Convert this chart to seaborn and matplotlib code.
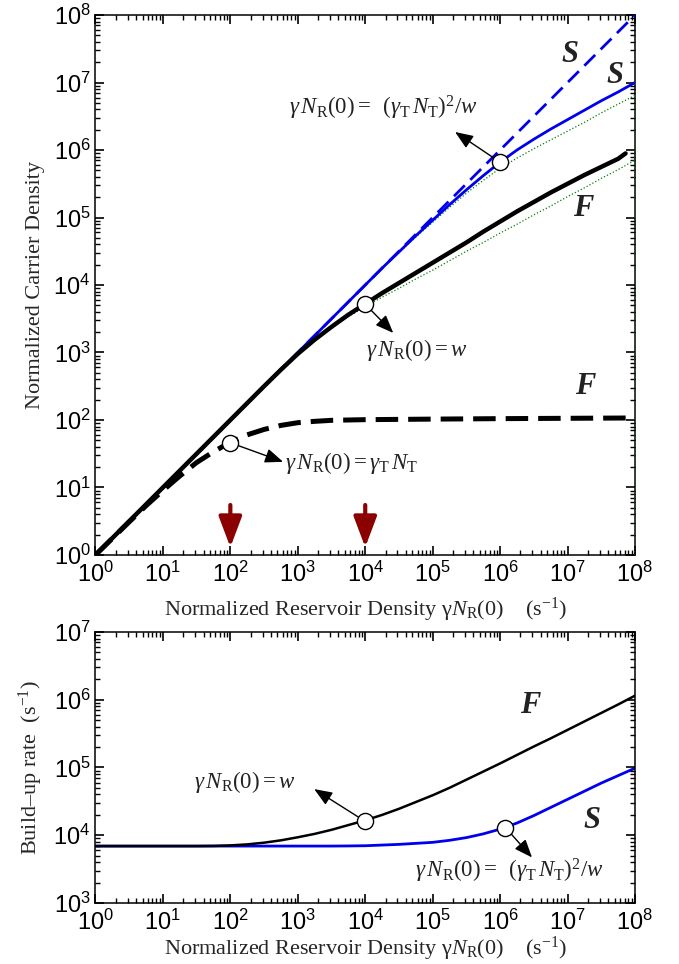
import numpy as np
import pandas as pd
import matplotlib
matplotlib.use("Agg")
import matplotlib.pyplot as plt
from matplotlib.ticker import LogLocator, FuncFormatter, NullFormatter
import seaborn as sns

# ---------------- data (as log10 exponents) ----------------
# top panel: normalized carrier density
blue_dashed_xe = [0, 8]
blue_dashed_ye = [0, 8]

blue_solid_xe = [0, 4, 4.25, 4.5, 4.75, 5, 5.25, 5.5, 5.75, 6, 6.25, 6.5, 6.75,
                 7, 7.25, 7.5, 7.75, 8]
blue_solid_ye = [0, 4.0, 4.25, 4.49, 4.73, 4.96, 5.19, 5.41, 5.62, 5.82, 6.0,
                 6.16, 6.31, 6.45, 6.59, 6.73, 6.86, 7.0]

green_up_xe = [0, 4.25, 4.5, 4.75, 5, 5.25, 5.5, 5.75, 6, 6.25, 6.5, 6.75, 7,
               7.25, 7.5, 7.75, 8, 8]
green_up_ye = [0, 4.25, 4.48, 4.71, 4.93, 5.15, 5.36, 5.55, 5.73, 5.88, 6.02,
               6.15, 6.28, 6.41, 6.55, 6.68, 6.81, 0]

black_xe = [0, 2.5, 2.75, 3, 3.25, 3.5, 3.75, 4, 4.25, 4.5, 4.75, 5, 5.25, 5.5,
            5.75, 6, 6.25, 6.5, 6.75, 7, 7.25, 7.5, 7.75, 7.86]
black_ye = [0, 2.5, 2.745, 2.98, 3.19, 3.38, 3.56, 3.72, 3.88, 4.03, 4.18, 4.33,
            4.48, 4.63, 4.79, 4.94, 5.09, 5.23, 5.37, 5.50, 5.63, 5.75, 5.87, 5.95]

green_lo_xe = [0, 2.75, 3, 3.25, 3.5, 3.75, 4, 4.25, 4.5, 4.75, 5, 5.25, 5.5,
               5.75, 6, 6.25, 6.5, 6.75, 7, 7.25, 7.5, 7.75, 8]
green_lo_ye = [0, 2.74, 2.97, 3.17, 3.36, 3.53, 3.68, 3.82, 3.95, 4.09, 4.22,
               4.36, 4.5, 4.63, 4.77, 4.9, 5.04, 5.17, 5.31, 5.44, 5.58, 5.71, 5.85]

dashed_xe = [0, 0.25, 0.5, 0.75, 1, 1.25, 1.5, 1.75, 2, 2.25, 2.5, 2.75, 3,
             3.25, 3.5, 3.75, 4, 5, 6, 7, 8]
dashed_ye = [0, 0.245, 0.49, 0.73, 0.955, 1.17, 1.37, 1.53, 1.67, 1.78, 1.86,
             1.92, 1.96, 1.98, 1.995, 2.0, 2.005, 2.013, 2.02, 2.025, 2.03]

# bottom panel: build-up rate
rate_F_xe = [0, 1, 1.5, 1.75, 2, 2.25, 2.5, 2.75, 3, 3.25, 3.5, 3.75, 4, 4.25,
             4.5, 4.75, 5, 5.25, 5.5, 5.75, 6, 6.25, 6.5, 6.75, 7, 7.25, 7.5,
             7.75, 8]
rate_F_ye = [3.84, 3.84, 3.84, 3.842, 3.85, 3.865, 3.89, 3.925, 3.97, 4.02,
             4.08, 4.15, 4.22, 4.30, 4.39, 4.49, 4.59, 4.70, 4.82, 4.94, 5.06,
             5.185, 5.31, 5.43, 5.555, 5.68, 5.805, 5.93, 6.06]
rate_S_xe = [0, 3.5, 3.75, 4, 4.25, 4.5, 4.75, 5, 5.25, 5.5, 5.75, 6, 6.25,
             6.5, 6.75, 7, 7.25, 7.5, 7.75, 8]
rate_S_ye = [3.84, 3.84, 3.842, 3.845, 3.855, 3.865, 3.88, 3.895, 3.925, 3.965,
             4.02, 4.09, 4.18, 4.29, 4.41, 4.53, 4.65, 4.77, 4.88, 4.99]

# marked points (open circles)
top_circ_x = [1e6, 1e4, 100]
top_circ_y = [6.6e5, 5.2e3, 46]
bot_circ_x = [1e4, 1.2e6]
bot_circ_y = [1.6e4, 1.3e4]

# red arrows marking x positions
red_arrow_x = [1e2, 1e4]

lab_top1 = r'$\gamma\,N_{\mathrm{R}}(0) =\;\;(\gamma_{\mathrm{T}}\,N_{\mathrm{T}})^{2}/w$'
lab_w = r'$\gamma\,N_{\mathrm{R}}(0) = w$'
lab_gt = r'$\gamma\,N_{\mathrm{R}}(0) = \gamma_{\mathrm{T}}\,N_{\mathrm{T}}$'
xlab = r'Normalized Reservoir Density $\mathrm{\gamma}N_{\mathrm{R}}(0)$    (s$^{-1}$)'


def p10(v):
    return 10.0 ** np.asarray(v, dtype=float)


# ---------------- style ----------------
sns.set_theme(style="ticks")
plt.rcParams.update({
    "font.family": ["Liberation Serif", "DejaVu Serif"],
    "mathtext.fontset": "custom",
    "mathtext.rm": "Liberation Serif",
    "mathtext.it": "Liberation Serif:italic",
    "mathtext.bf": "Liberation Serif:bold",
    "mathtext.sf": "Liberation Sans",
    "mathtext.fallback": "stix",
    "axes.edgecolor": "black",
    "axes.linewidth": 1.1,
    "xtick.color": "black", "ytick.color": "black",
    "xtick.direction": "in", "ytick.direction": "in",
    "xtick.top": True, "ytick.right": True,
})

fig = plt.figure(figsize=(6.79, 9.64), dpi=100)
ax1 = fig.add_axes([0.1406, 0.4243, 0.7946, 0.5601])
ax2 = fig.add_axes([0.1406, 0.0633, 0.7946, 0.2811])
for ax in (ax1, ax2):
    ax.set_xscale("log")
    ax.set_yscale("log")


def line(ax, xe, ye, **kw):
    sns.lineplot(x=p10(xe), y=p10(ye), ax=ax, estimator=None, sort=False,
                 legend=False, **kw)


# ---------------- top panel ----------------
line(ax1, green_lo_xe, green_lo_ye, color="green", lw=0.9, linestyle=":", zorder=2.6)
line(ax1, green_up_xe, green_up_ye, color="green", lw=0.9, linestyle=":", zorder=2.6)
line(ax1, blue_dashed_xe, blue_dashed_ye, color="#0000ee", lw=2.0,
     linestyle=(0, (5.5, 2.8)), zorder=3)
line(ax1, blue_solid_xe, blue_solid_ye, color="#0000ee", lw=2.0, zorder=3)
line(ax1, black_xe, black_ye, color="black", lw=3.2, zorder=3.1)
line(ax1, dashed_xe, dashed_ye, color="black", lw=3.6, linestyle=(0, (4.5, 2.0)), zorder=3.1)
sns.scatterplot(x=top_circ_x, y=top_circ_y, ax=ax1, s=135, marker="o",
                facecolor="white", edgecolor="black", linewidth=1.0, zorder=5,
                legend=False)

ax1.set_xlabel(xlab, fontsize=16, labelpad=6)
ax1.set_ylabel("Normalized Carrier Density", fontsize=16, labelpad=6)

arrow_k = dict(arrowstyle="-|>,head_length=0.55,head_width=0.22", color="black",
               lw=1.0, mutation_scale=20, shrinkA=6, shrinkB=0)
ax1.annotate("", xy=(2.15e5, 1.85e6), xytext=(top_circ_x[0], top_circ_y[0]), arrowprops=arrow_k)
ax1.annotate("", xy=(2.6e4, 1.95e3), xytext=(top_circ_x[1], top_circ_y[1]), arrowprops=arrow_k)
ax1.annotate("", xy=(605, 24), xytext=(top_circ_x[2], top_circ_y[2]), arrowprops=arrow_k)
ax1.text(745, 4.2e6, lab_top1, fontsize=16.5, ha="left", va="center", color="#222222")
ax1.text(1.03e4, 1.1e3, lab_w, fontsize=16.5, ha="left", va="center", color="#222222")
ax1.text(650, 23, lab_gt, fontsize=16.5, ha="left", va="center", color="#222222")

bi = dict(fontsize=22, fontweight="bold", fontstyle="italic", ha="center",
          va="center", color="#222222")
ax1.text(1.07e7, 2.6e7, "S", **bi)
ax1.text(5.1e7, 1.26e7, "S", **bi)
ax1.text(1.7e7, 1.38e5, "F", **bi)
ax1.text(1.8e7, 310, "F", **bi)

red_k = dict(arrowstyle="-|>,head_length=0.85,head_width=0.32", color="#8b0000",
             lw=3.0, mutation_scale=22, shrinkA=0, shrinkB=0)
for rx in red_arrow_x:
    ax1.annotate("", xy=(rx, 1.3), xytext=(rx, 5.5), arrowprops=red_k)

# ---------------- bottom panel ----------------
line(ax2, rate_S_xe, rate_S_ye, color="#0000ee", lw=2.0)
line(ax2, rate_F_xe, rate_F_ye, color="black", lw=1.8)
sns.scatterplot(x=bot_circ_x, y=bot_circ_y, ax=ax2, s=135, marker="o",
                facecolor="white", edgecolor="black", linewidth=1.0, zorder=5,
                legend=False)
ax2.set_xlabel(xlab, fontsize=16, labelpad=0)
ax2.set_ylabel(r"Build–up rate  (s$^{-1}$)", fontsize=16, labelpad=6)

ax2.annotate("", xy=(1.75e3, 4.8e4), xytext=(bot_circ_x[0], bot_circ_y[0]), arrowprops=arrow_k)
ax2.annotate("", xy=(2.97e6, 4.7e3), xytext=(bot_circ_x[1], bot_circ_y[1]), arrowprops=arrow_k)
ax2.text(29, 6.2e4, lab_w, fontsize=16.5, ha="left", va="center", color="#222222")
ax2.text(5.5e4, 3.0e3, lab_top1, fontsize=16.5, ha="left", va="center", color="#222222")
ax2.text(2.8e6, 8.3e5, "F", **bi)
ax2.text(2.3e7, 1.66e4, "S", **bi)

# ---------------- axes: limits, ticks ----------------
fmt = FuncFormatter(lambda v, p: r'$\mathsf{10^{%d}}$' % int(round(np.log10(v))))
for ax, ylim in ((ax1, (1, 1e8)), (ax2, (1e3, 1e7))):
    ax.set_xlim(1, 1e8)
    ax.set_ylim(*ylim)
    ax.set_axisbelow(False)
    for axis in (ax.xaxis, ax.yaxis):
        axis.set_major_locator(LogLocator(base=10.0, numticks=20))
        axis.set_minor_locator(LogLocator(base=10.0, subs=(2., 3., 4., 5., 6., 7., 8., 9.),
                                          numticks=20))
        axis.set_major_formatter(fmt)
        axis.set_minor_formatter(NullFormatter())
    ax.tick_params(which="major", direction="in", top=True, right=True,
                   length=6.5, width=1.2, color="black", labelsize=17)
    ax.tick_params(which="minor", direction="in", top=True, right=True,
                   length=3.5, width=1.0, color="black")
    ax.tick_params(axis="x", which="major", pad=5)

fig.savefig("out.png", dpi=100)
